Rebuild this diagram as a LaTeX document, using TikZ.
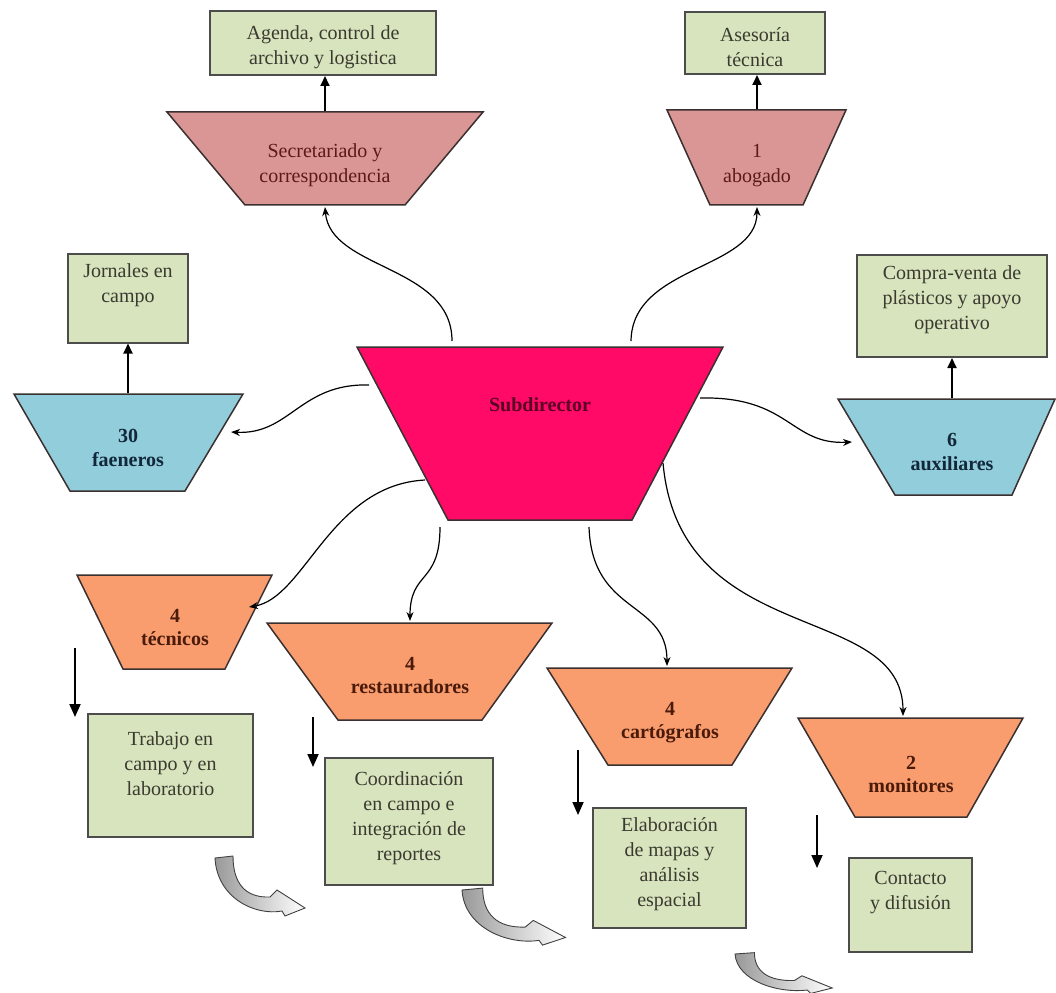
\documentclass[tikz,border=0pt]{standalone}
\usepackage{fontspec}
\setmainfont{Liberation Serif}
\usetikzlibrary{arrows.meta}
\definecolor{subdc}{HTML}{FF0A66}
\definecolor{pinkc}{HTML}{D99694}
\definecolor{bluec}{HTML}{92CDDC}
\definecolor{orangec}{HTML}{F99D6E}
\definecolor{greenc}{HTML}{D7E4BD}
\definecolor{boxtxt}{HTML}{3A3A30}
\definecolor{pinktxt}{HTML}{5A1A1A}
\definecolor{orgtxt}{HTML}{4A1A0A}
\definecolor{bluetxt}{HTML}{12283A}
\definecolor{subdtxt}{HTML}{5A0025}
\definecolor{edgec}{HTML}{3A3030}
\newcommand\curlyarr[3]{%
  \begin{scope}[shift={#1},xscale=#2,yscale=#3]
    \path[draw=black!75, line width=0.9pt, left color=black!40, right color=white]
      (0,0) -- (18,-2) .. controls (18,25) and (30,40) .. (55,39)
      -- (62,32) -- (90,50) -- (70,58) -- (67,53)
      .. controls (40,58) and (2,40) .. (0,0) -- cycle;
  \end{scope}}
\begin{document}
\begin{tikzpicture}[x=1pt,y=-1pt,
  trapl/.style={draw=edgec, line width=1.5pt, line join=miter},
  gbox/.style={draw=black!70, line width=2pt, fill=greenc, inner sep=0pt},
  btext/.style={font=\fontsize{20}{25}\selectfont, align=center, text=boxtxt},
  ptext/.style={font=\fontsize{20}{25}\selectfont, align=center, text=pinktxt},
  otext/.style={font=\bfseries\fontsize{20}{23}\selectfont, align=center, text=orgtxt},
  bltext/.style={font=\bfseries\fontsize{20}{24}\selectfont, align=center, text=bluetxt},
  conn/.style={line width=1.2pt, -{Stealth[length=9pt,width=7pt]}},
  uparr/.style={line width=1.8pt, -{Triangle[length=10pt,width=9pt]}},
  darr/.style={line width=1.8pt, -{Triangle[length=13pt,width=11pt]}}]
\useasboundingbox (0,0) rectangle (1056,992);
\fill[white] (0,0) rectangle (1056,992);

% ---------- top pink branch ----------
\node[gbox, minimum width=226pt, minimum height=64pt] (agenda) at (323,43) {};
\node[btext] (agendat) at (323,47) {Agenda, control de\\archivo y logistica};
\filldraw[trapl, fill=pinkc] (167,112) -- (483,112) -- (405,205) -- (245,205) -- cycle;
\node[ptext] (secr) at (325,165) {Secretariado y\\correspondencia};
\coordinate (secrtop) at (325,111);
\coordinate (secrbot) at (325,207);
\draw[uparr] (secrtop) -- (secrtop |- agenda.south);

\node[gbox, minimum width=140pt, minimum height=62pt] (aseso) at (755,43) {};
\node[btext] (asesot) at (755,47) {Asesoría\\técnica};
\filldraw[trapl, fill=pinkc] (667,110) -- (846,110) -- (803,205) -- (710,205) -- cycle;
\node[ptext] (abog) at (757,166) {1\\abogado};
\coordinate (abogtop) at (757,109);
\coordinate (abogbot) at (757,207);
\draw[uparr] (abogtop) -- (abogtop |- aseso.south);

% ---------- blue side branches ----------
\node[gbox, minimum width=120pt, minimum height=89pt] (jorn) at (128,298) {};
\node[btext] (jornt) at (128,285) {Jornales en\\campo};
\filldraw[trapl, fill=bluec] (14,394) -- (243,394) -- (185,491) -- (70,491) -- cycle;
\node[bltext] (faen) at (128,448) {30\\faeneros};
\coordinate (faentop) at (128,393);
\coordinate (faenr) at (231,432);
\draw[uparr] (faentop) -- (faentop |- jorn.south);

\node[gbox, minimum width=190pt, minimum height=102pt] (compra) at (952,306) {};
\node[btext] (comprat) at (952,300) {Compra-venta de\\plásticos y apoyo\\operativo};
\filldraw[trapl, fill=bluec] (838,399) -- (1055,399) -- (1012,495) -- (895,495) -- cycle;
\node[bltext] (aux) at (952,452) {6\\auxiliares};
\coordinate (auxtop) at (952,398);
\coordinate (auxl) at (852,442);
\draw[uparr] (auxtop) -- (auxtop |- compra.south);

% ---------- Subdirector ----------
\filldraw[trapl, fill=subdc] (357,347) -- (723,347) -- (632,520) -- (448,520) -- cycle;
\node[font=\bfseries\fontsize{20}{24}\selectfont, text=subdtxt] (subd) at (540,405) {Subdirector};
\coordinate (s1) at (452,341);
\coordinate (s2) at (631,341);
\coordinate (s3) at (369,385);
\coordinate (s4) at (700,398);
\coordinate (s5) at (425,480);
\coordinate (s6) at (440,527);
\coordinate (s7) at (589,527);
\coordinate (s8) at (663,463);

% ---------- orange lower branches ----------
\filldraw[trapl, fill=orangec] (77,575) -- (272,575) -- (225,669) -- (123,669) -- cycle;
\node[otext] (tec) at (175,628) {4\\técnicos};
\coordinate (tecr) at (249,607);
\node[gbox, minimum width=165pt, minimum height=123pt] (trab) at (170.5,775.5) {};
\node[btext] (trabt) at (170.5,764) {Trabajo en\\campo y en\\laboratorio};
\coordinate (d1a) at (75,648);
\coordinate (d1b) at (75,717);

\filldraw[trapl, fill=orangec] (267,623) -- (552,623) -- (482,720) -- (338,720) -- cycle;
\node[otext] (rest) at (410,676) {4\\restauradores};
\coordinate (resttop) at (410,621);
\node[gbox, minimum width=168pt, minimum height=127pt] (coord) at (409,821.5) {};
\node[btext] (coordt) at (409,818) {Coordinación\\en campo e\\integración de\\reportes};
\coordinate (d2a) at (313,717);
\coordinate (d2b) at (313,767);

\filldraw[trapl, fill=orangec] (547,668) -- (792,668) -- (732,765) -- (608,765) -- cycle;
\node[otext] (cart) at (670,723) {4\\cartógrafos};
\coordinate (carttop) at (667,666);
\node[gbox, minimum width=153pt, minimum height=120pt] (elab) at (669.5,868) {};
\node[btext] (elabt) at (669.5,864) {Elaboración\\de mapas y\\análisis\\espacial};
\coordinate (d3a) at (578,750);
\coordinate (d3b) at (578,815);

\filldraw[trapl, fill=orangec] (798,718) -- (1023,718) -- (967,817) -- (855,817) -- cycle;
\node[otext] (moni) at (911,774) {2\\monitores};
\coordinate (monitop) at (903,716);
\node[gbox, minimum width=123pt, minimum height=94pt] (cont) at (910.5,905) {};
\node[btext] (contt) at (910.5,893) {Contacto\\y difusión};
\coordinate (d4a) at (817,815);
\coordinate (d4b) at (817,868);

% ---------- connectors ----------
\draw[conn] (s1) .. controls (452,265) and (330,270) .. (secrbot);
\draw[conn] (s2) .. controls (632,265) and (757,270) .. (abogbot);
\draw[conn] (s3) .. controls (300,383) and (290,435) .. (faenr);
\draw[conn] (s4) .. controls (790,396) and (790,445) .. (auxl);
\draw[conn] (s5) .. controls (330,485) and (305,598) .. (tecr);
\draw[conn] (s6) .. controls (440,585) and (410,570) .. (resttop);
\draw[conn] (s7) .. controls (592,615) and (667,600) .. (carttop);
\draw[conn] (s8) .. controls (680,650) and (903,600) .. (monitop);

\draw[darr] (d1a) -- (d1b);
\draw[darr] (d2a) -- (d2b);
\draw[darr] (d3a) -- (d3b);
\draw[darr] (d4a) -- (d4b);

% ---------- curly arrows ----------
\curlyarr{(215,858)}{1}{1}
\curlyarr{(462,890)}{1.15}{0.95}
\curlyarr{(735,954)}{1.08}{0.68}
\end{tikzpicture}
\end{document}
